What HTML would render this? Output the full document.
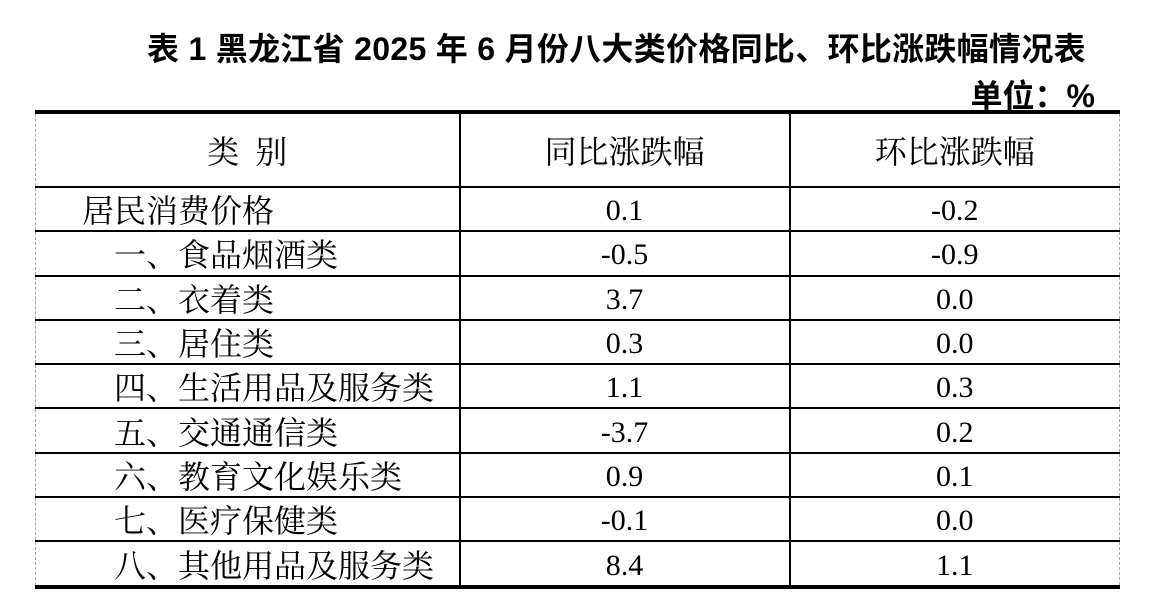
<!DOCTYPE html>
<html><head><meta charset="utf-8"><style>
body{margin:0;background:#fff;width:1164px;height:604px;position:relative;overflow:hidden}
.t{position:absolute;font-family:"Liberation Sans","Noto Sans CJK SC",sans-serif;font-weight:bold;font-size:32px;white-space:nowrap;color:#000;letter-spacing:0.3px}
table{position:absolute;left:35px;top:110px;border-collapse:collapse;font-family:"Liberation Serif","Noto Serif CJK SC",serif;font-size:30px;color:#000}
td{border:2px solid #000;height:38.3px;padding:4px 0 0 0;text-align:center;line-height:1;white-space:nowrap}
td.c{font-size:32px}
tr.h td{height:68px}
table{border-top:4px solid #000;border-bottom:4px solid #000}
td:first-child{border-left:1px dashed #aaa;text-align:left}
td:last-child{border-right:1px dashed #aaa}
tr.h td:first-child{text-align:center}
</style></head><body>
<div class="t" style="left:147px;top:24px;">表 1 黑龙江省 2025 年 6 月份八大类价格同比、环比涨跌幅情况表</div>
<div class="t" style="right:69px;top:71px;letter-spacing:0">单位：%</div>
<table>
<colgroup><col style="width:424px"><col style="width:330px"><col style="width:330px"></colgroup>
<tr class="h"><td class="c">类&nbsp;&nbsp;别</td><td class="c">同比涨跌幅</td><td class="c">环比涨跌幅</td></tr>
<tr><td class="c" style="padding-left:46px">居民消费价格</td><td>0.1</td><td>-0.2</td></tr>
<tr><td class="c" style="padding-left:78px">一、食品烟酒类</td><td>-0.5</td><td>-0.9</td></tr>
<tr><td class="c" style="padding-left:78px">二、衣着类</td><td>3.7</td><td>0.0</td></tr>
<tr><td class="c" style="padding-left:78px">三、居住类</td><td>0.3</td><td>0.0</td></tr>
<tr><td class="c" style="padding-left:78px">四、生活用品及服务类</td><td>1.1</td><td>0.3</td></tr>
<tr><td class="c" style="padding-left:78px">五、交通通信类</td><td>-3.7</td><td>0.2</td></tr>
<tr><td class="c" style="padding-left:78px">六、教育文化娱乐类</td><td>0.9</td><td>0.1</td></tr>
<tr><td class="c" style="padding-left:78px">七、医疗保健类</td><td>-0.1</td><td>0.0</td></tr>
<tr><td class="c" style="padding-left:78px">八、其他用品及服务类</td><td>8.4</td><td>1.1</td></tr>
</table>
</body></html>
